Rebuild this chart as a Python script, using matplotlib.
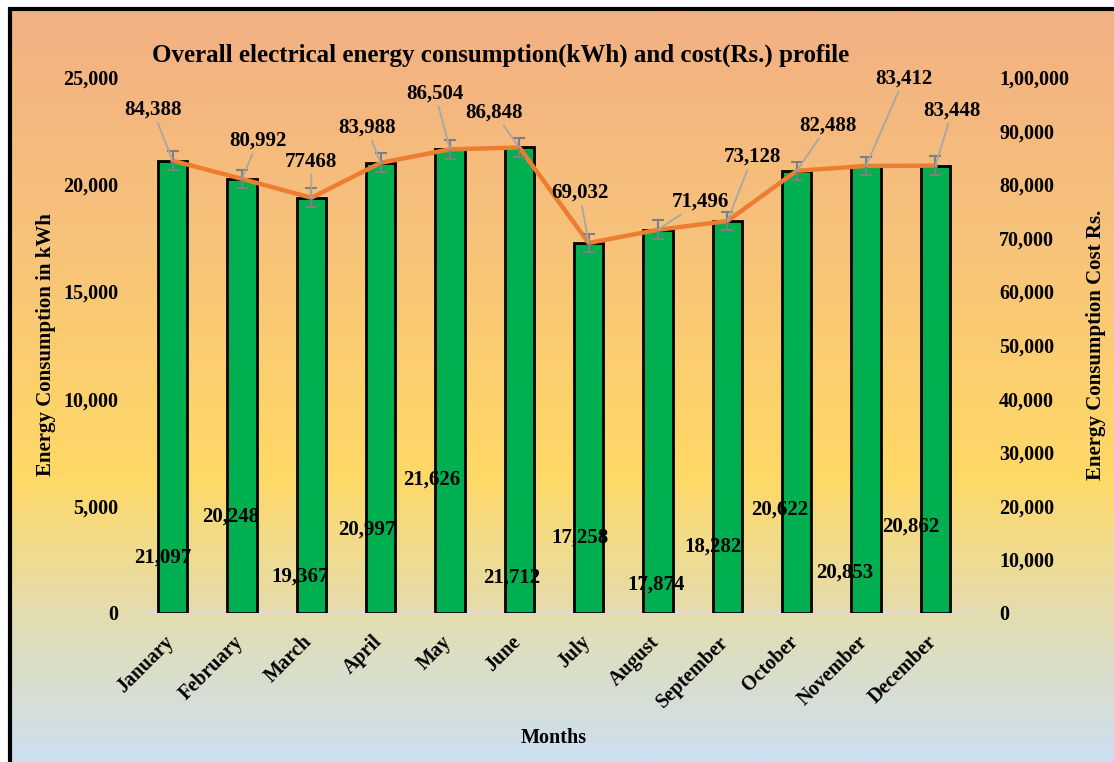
import numpy as np
import matplotlib
matplotlib.use("Agg")
import matplotlib.pyplot as plt
import matplotlib.transforms as mtransforms
from matplotlib.colors import LinearSegmentedColormap
from matplotlib.patches import Rectangle
from matplotlib.ticker import FuncFormatter

months = ["January", "February", "March", "April", "May", "June", "July",
          "August", "September", "October", "November", "December"]
kwh = [21097, 20248, 19367, 20997, 21626, 21712, 17258, 17874, 18282, 20622, 20853, 20862]
cost = [84388, 80992, 77468, 83988, 86504, 86848, 69032, 71496, 73128, 82488, 83412, 83448]
cost_txt = ["84,388", "80,992", "77468", "83,988", "86,504", "86,848",
            "69,032", "71,496", "73,128", "82,488", "83,412", "83,448"]

# label offsets in pixels from the marker (dx, dy)
kwh_off = [(-10, -397), (-11, -338), (-11, -379), (-14, -367), (-18, -330), (-8, -430),
           (-9, -295), (-2, -355), (-14, -326), (-17, -339), (-21, -407), (-25, -361)]
cost_off = [(-20, 51), (16, 38), (0, 36), (-14, 35), (-15, 56), (-25, 35),
            (-9, 50), (42, 28), (25, 64), (31, 45), (38, 87), (17, 55)]

plt.rcParams["font.family"] = ["Liberation Serif", "DejaVu Serif"]
plt.rcParams["font.weight"] = "bold"

fig = plt.figure(figsize=(11.14, 7.62), dpi=100)

# gradient background inside the frame
bg = fig.add_axes([10 / 1114, 0, 1 - 10 / 1114, 1 - 9 / 762], zorder=-10)
cmap = LinearSegmentedColormap.from_list("bg", [(0, "#F3B083"), (0.3, "#F7C27A"),
                                                (0.62, "#FFD966"), (0.82, "#E2DDB4"),
                                                (1.0, "#CCDFF1")])
bg.imshow(np.linspace(0, 1, 300).reshape(-1, 1), aspect="auto", cmap=cmap,
          extent=[0, 1, 0, 1], origin="upper")
bg.add_patch(Rectangle((0, -0.1), 1.2, 1.1, transform=bg.transAxes, fill=False,
                       edgecolor="black", lw=3, clip_on=False))
bg.axis("off")

ax = fig.add_axes([138 / 1114, 1 - 613 / 762, 832 / 1114, 536 / 762])
ax.patch.set_alpha(0)
x = np.arange(len(months))
bars = ax.bar(x, kwh, width=0.42, color="#00B050", edgecolor="black", lw=2.0, zorder=3)
ax.set_xlim(-0.5, len(months) - 0.5)
ax.set_ylim(0, 25000)
ax.set_yticks(range(0, 25001, 5000))
ax.yaxis.set_major_formatter(FuncFormatter(lambda v, p: f"{int(v):,}"))
ax.axhline(0, color="#D9D9D9", lw=1.5, zorder=2)
for s in ax.spines.values():
    s.set_visible(False)
ax.tick_params(length=0, labelsize=14.5)
ax.tick_params(axis="y", pad=14)
ax.set_xticks(x)
ax.set_xticklabels(months, rotation=45, ha="right", rotation_mode="anchor", fontsize=14.5)
ax.tick_params(axis="x", pad=10)
shift = mtransforms.ScaledTranslation(-9 / 100, -5 / 100, fig.dpi_scale_trans)
for lab in ax.get_xticklabels():
    lab.set_transform(lab.get_transform() + shift)
ax.set_xlabel("Months", fontsize=14.5, fontweight="bold", labelpad=12)
ax.set_ylabel("Energy Consumption in kWh", fontsize=15, fontweight="bold", labelpad=5)


def indian(v, p):
    v = int(v)
    if v >= 100000:
        s = str(v)
        head, tail = s[:-3], s[-3:]
        parts = []
        while len(head) > 2:
            parts.insert(0, head[-2:])
            head = head[:-2]
        parts.insert(0, head)
        return ",".join(parts) + "," + tail
    return f"{v:,}"


ax2 = ax.twinx()
ax2.set_ylim(0, 100000)
ax2.set_yticks(range(0, 100001, 10000))
ax2.yaxis.set_major_formatter(FuncFormatter(indian))
for s in ax2.spines.values():
    s.set_visible(False)
ax2.tick_params(length=0, labelsize=14.5, pad=21)
ax2.set_ylabel("Energy Consumption Cost Rs.", fontsize=15, fontweight="bold",
               rotation=90, labelpad=12)

se = np.std(cost, ddof=1) / np.sqrt(len(cost))
ax2.plot(x, cost, color="#ED7D31", lw=3.2, zorder=4)
ax2.errorbar(x, cost, yerr=se, fmt="none", ecolor="#7F7F7F", elinewidth=1.5,
             capsize=4, capthick=1.5, zorder=5)

for i in range(len(months)):
    ax.annotate(f"{kwh[i]:,}", xy=(x[i], kwh[i]), xytext=kwh_off[i],
                textcoords="offset pixels", ha="center", va="center",
                fontsize=15, fontweight="bold", zorder=6)
    ax2.annotate(cost_txt[i], xy=(x[i], cost[i]), xytext=cost_off[i],
                 textcoords="offset pixels", ha="center", va="center",
                 fontsize=15, fontweight="bold", zorder=6,
                 arrowprops=dict(arrowstyle="-", color="#A6A6A6", lw=1.3,
                                 shrinkA=0, shrinkB=0))

fig.text(501 / 1114, 1 - 55 / 762,
         "Overall electrical energy consumption(kWh) and cost(Rs.) profile",
         ha="center", va="center", fontsize=18, fontweight="bold")

fig.savefig("out.png", dpi=100)
